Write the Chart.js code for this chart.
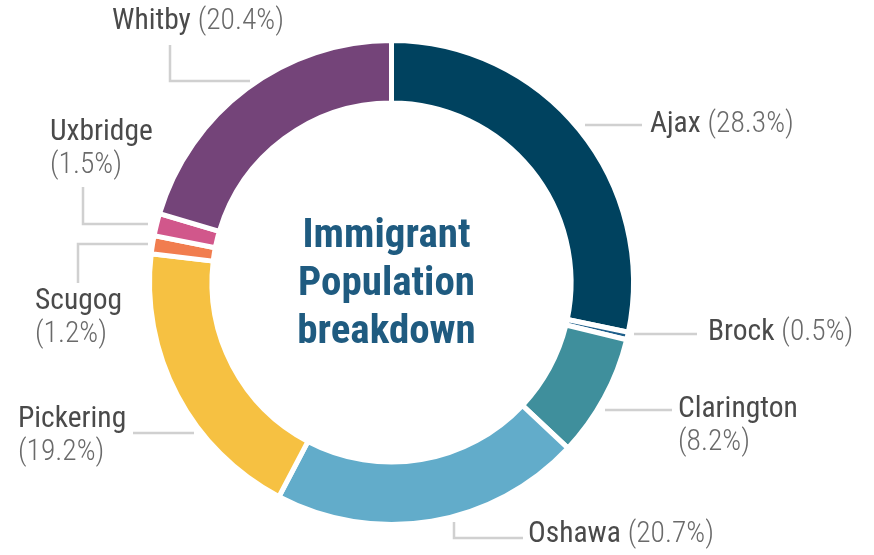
<!DOCTYPE html>
<html>
<head>
<meta charset="utf-8">
<script src="https://cdn.jsdelivr.net/npm/chart.js@4/dist/chart.umd.min.js"></script>
<style>
  html, body { margin: 0; padding: 0; background: #ffffff; }
  #wrap { width: 874px; height: 555px; }
</style>
</head>
<body>
<div id="wrap"><canvas id="c" width="874" height="555"></canvas></div>
<script>
// ---- data ----
const categories = ['Ajax', 'Brock', 'Clarington', 'Oshawa', 'Pickering', 'Scugog', 'Uxbridge', 'Whitby'];
const shares = [28.3, 0.5, 8.2, 20.7, 19.2, 1.2, 1.5, 20.4];
const centerTitle = ['Immigrant', 'Population', 'breakdown'];

// ---- styles ----
const colors = ['#00425F', '#1F5F8B', '#3F8F9C', '#62ACCA', '#F6C142', '#F17D4F', '#D1578B', '#744479'];
const FONT = "'Roboto Condensed', 'Liberation Sans Narrow', 'Arial Narrow', Roboto, sans-serif";

// label layout: offsets from chart centre (leader polyline, text anchor, split into two lines?)
const labelLayout = [
  { pts: [[193.5, -157.5], [250.5, -157.5]], tx: 258.5, ty: -157.5, split: false },   // Ajax
  { pts: [[242.5, 51.5], [305.5, 51.5]], tx: 316.5, ty: 50.5, split: false },         // Brock
  { pts: [[213.5, 127.5], [280.5, 127.5]], tx: 286.5, ty: 127.5, split: true },        // Clarington
  { pts: [[62.5, 239.5], [62.5, 255.5], [131.5, 255.5]], tx: 136.5, ty: 252.5, split: false }, // Oshawa
  { pts: [[-197.5, 150.5], [-258.5, 150.5]], tx: -373.5, ty: 137.5, split: true },     // Pickering
  { pts: [[-243.5, -38.5], [-313.5, -38.5], [-313.5, 0.5]], tx: -356.5, ty: 19.5, split: true }, // Scugog
  { pts: [[-308.5, -95.5], [-308.5, -58.5], [-243.5, -58.5]], tx: -341.5, ty: -149.5, split: true }, // Uxbridge
  { pts: [[-221.5, -237.5], [-221.5, -201.5], [-141.5, -201.5]], tx: -279.5, ty: -260.5, split: false } // Whitby
];

const labelPlugin = {
  id: 'labelPlugin',
  afterDraw(chart) {
    const ctx = chart.ctx;
    const arc = chart.getDatasetMeta(0).data[0];
    const cx = arc.x, cy = arc.y;
    ctx.save();
    // centre title
    ctx.fillStyle = '#1F5B80';
    ctx.font = "bold 41px " + FONT;
    ctx.textAlign = 'center';
    ctx.textBaseline = 'middle';
    centerTitle.forEach((t, i) => {
      ctx.fillText(t, cx - 5, cy - 45.5 + i * 48);
    });
    // labels
    categories.forEach((name, i) => {
      const L = labelLayout[i];
      ctx.strokeStyle = '#D0D0D0';
      ctx.lineWidth = 2.5;
      ctx.beginPath();
      L.pts.forEach((p, k) => {
        if (k === 0) ctx.moveTo(cx + p[0], cy + p[1]);
        else ctx.lineTo(cx + p[0], cy + p[1]);
      });
      ctx.stroke();
      const pct = '(' + shares[i].toFixed(1) + '%)';
      ctx.textAlign = 'left';
      ctx.textBaseline = 'middle';
      const x = cx + L.tx, y = cy + L.ty;
      const nameFont = "29.5px " + FONT;
      const pctFont = "300 29.5px " + FONT;
      ctx.font = nameFont;
      ctx.fillStyle = '#4A4A4A';
      ctx.fillText(name, x, y);
      if (L.split) {
        ctx.font = pctFont;
        ctx.fillStyle = '#6A6A6A';
        ctx.fillText(pct, x, y + 33);
      } else {
        const w = ctx.measureText(name + ' ').width;
        ctx.font = pctFont;
        ctx.fillStyle = '#6A6A6A';
        ctx.fillText(pct, x + w, y);
      }
    });
    ctx.restore();
  }
};

new Chart(document.getElementById('c'), {
  type: 'doughnut',
  data: {
    labels: categories,
    datasets: [{
      data: shares,
      backgroundColor: colors,
      borderColor: '#ffffff',
      borderWidth: 5,
      borderAlign: 'center'
    }]
  },
  options: {
    responsive: false,
    animation: false,
    cutout: '74.2%',
    layout: { padding: { left: 147, right: 238, top: 38, bottom: 28 } },
    plugins: {
      legend: { display: false },
      tooltip: { enabled: false }
    }
  },
  plugins: [labelPlugin]
});
</script>
</body>
</html>
